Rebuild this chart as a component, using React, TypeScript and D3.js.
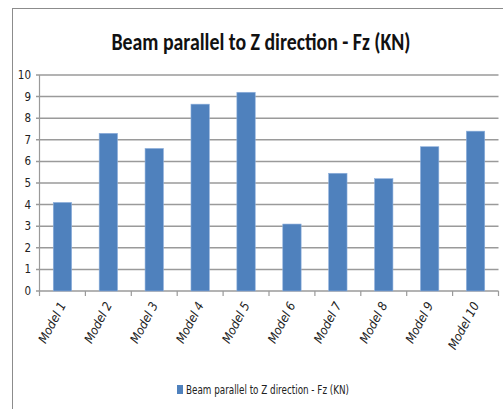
import React from "react";
import * as d3 from "d3";

const categories = ["Model 1", "Model 2", "Model 3", "Model 4", "Model 5", "Model 6", "Model 7", "Model 8", "Model 9", "Model 10"];
const values = [4.1, 7.3, 6.6, 8.65, 9.2, 3.1, 5.45, 5.2, 6.68, 7.4];
const yTicks = [0, 1, 2, 3, 4, 5, 6, 7, 8, 9, 10];
const title = "Beam parallel to Z direction - Fz (KN)";
const seriesName = "Beam parallel to Z direction - Fz (KN)";

const W = 503, H = 409;
const left = 39.5, right = 498.5, top = 75, bottom = 291;
const font = "'Liberation Sans Narrow', 'DejaVu Sans Condensed', 'Open Sans', sans-serif";

export default function App() {
  const x = d3.scaleBand<string>().domain(categories).range([left, right]).paddingInner(0.6).paddingOuter(0.3);
  const y = d3.scaleLinear().domain([0, 10]).range([bottom, top]);
  const step = (right - left) / categories.length;
  const grey = "#9a9a9a";
  return (
    <svg width={W} height={H} style={{ position: "absolute", left: 0, top: 0, background: "#fff" }}>
      <rect x={12.5} y={8.5} width={W + 20} height={H + 20} fill="#fff" stroke="#8c8c8c" strokeWidth={1} />
      <text x={261} y={50} textAnchor="middle" fontFamily="Carlito, 'Open Sans', sans-serif" fontWeight="bold" fontSize={24} textLength={299} lengthAdjust="spacingAndGlyphs" fill="#111">{title}</text>
      {yTicks.map((t) => (
        <g key={t}>
          <line x1={36} x2={right} y1={y(t)} y2={y(t)} stroke={grey} strokeWidth={1.5} />
          <text x={31} y={y(t) + 4} textAnchor="end" fontFamily={font} fontSize={11.5} fill="#222">{t}</text>
        </g>
      ))}
      <line x1={left} x2={left} y1={top} y2={bottom} stroke={grey} strokeWidth={1.2} />
      {d3.range(categories.length + 1).map((i) => (
        <line key={i} x1={left + i * step} x2={left + i * step} y1={bottom} y2={bottom + 5} stroke={grey} strokeWidth={1.2} />
      ))}
      {categories.map((c, i) => (
        <rect key={c} x={x(c)} y={y(values[i])} width={x.bandwidth()} height={bottom - y(values[i])} fill="#4F81BD" stroke="#8fb0dc" strokeWidth={0.6} />
      ))}
      {categories.map((c) => {
        const cx = (x(c) as number) + x.bandwidth() / 2 + 4;
        return (
          <text key={c} transform={`translate(${cx},${bottom + 14}) rotate(-62)`} textAnchor="end" fontFamily={font} fontSize={12.5} fontStyle="italic" fill="#222">{c}</text>
        );
      })}
      <rect x={177} y={385} width={6} height={9} fill="#4F81BD" />
      <text x={186} y={394} fontFamily={font} fontSize={12.5} textLength={163} lengthAdjust="spacingAndGlyphs" fill="#222">{seriesName}</text>
    </svg>
  );
}
